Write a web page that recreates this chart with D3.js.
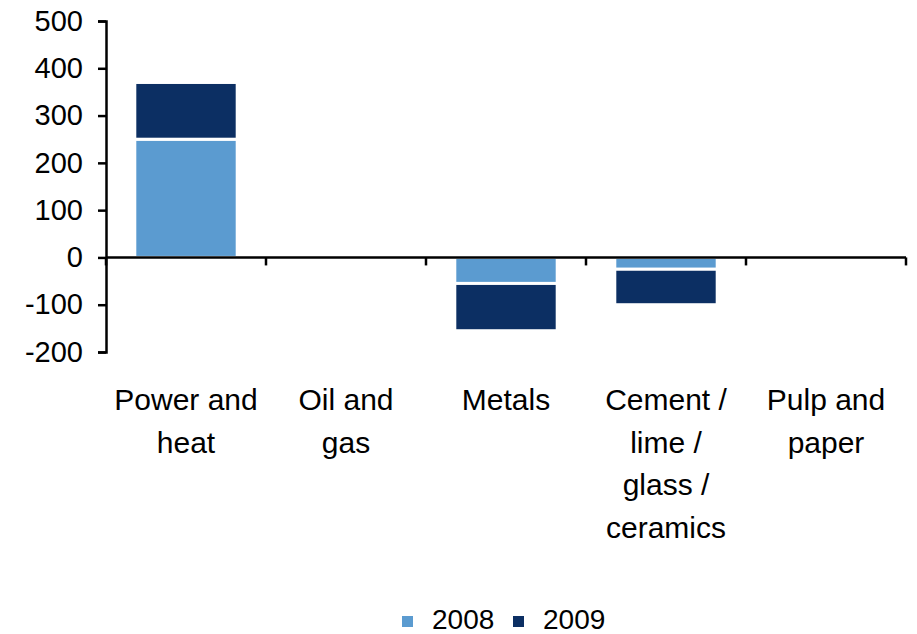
<!DOCTYPE html>
<html>
<head>
<meta charset="utf-8">
<script src="https://cdn.jsdelivr.net/npm/d3@7"></script>
<style>
  body { margin: 0; background: white; }
  text { font-family: "Liberation Sans", Arial, sans-serif; fill: #000; }
</style>
</head>
<body>
<div id="chart"></div>
<script>

var width = 917,
    height = 634;

// data
var categories = [
    ["Power and", "heat"],
    ["Oil and", "gas"],
    ["Metals"],
    ["Cement /", "lime /", "glass /", "ceramics"],
    ["Pulp and", "paper"]
];
var years = ["2008", "2009"];
var values2008 = [250, 0, -55, -25, 0];
var values2009 = [120, 0, -100, -75, 0];
var yTicks = [-200, -100, 0, 100, 200, 300, 400, 500];
var colors = ["#5b9bd0", "#0c2f63"];

var margin = { left: 106, right: 11, top: 21, bottom: 282 };

var svg = d3.select("#chart")
    .append("svg")
    .attr("width", width)
    .attr("height", height);

svg.append("rect")
    .attr("width", "100%")
    .attr("height", "100%")
    .attr("fill", "white");

var x = d3.scaleBand()
    .domain(d3.range(categories.length))
    .range([margin.left, width - margin.right])
    .paddingInner(0.36)
    .paddingOuter(0.18);

var y = d3.scaleLinear()
    .domain([-200, 500])
    .range([height - margin.bottom, margin.top]);

// build stacked segments (same sign stacks outward from zero)
var segments = [];
categories.forEach(function(c, i) {
    var base = 0;
    [values2008[i], values2009[i]].forEach(function(v, s) {
        if (v === 0) return;
        segments.push({ i: i, s: s, y0: base, y1: base + v });
        base += v;
    });
});

svg.append("g")
    .selectAll("rect")
    .data(segments)
    .enter().append("rect")
    .attr("x", function(d) { return x(d.i); })
    .attr("width", x.bandwidth())
    .attr("y", function(d) { return y(Math.max(d.y0, d.y1)); })
    .attr("height", function(d) { return Math.abs(y(d.y0) - y(d.y1)); })
    .attr("fill", function(d) { return colors[d.s]; })
    .attr("stroke", "white")
    .attr("stroke-width", 3);

// y axis
var yAxis = svg.append("g")
    .attr("transform", "translate(" + margin.left + ",0)")
    .call(d3.axisLeft(y)
        .tickValues(yTicks)
        .tickSize(8)
        .tickPadding(15)
        .tickFormat(function(d) { return String(d); }));
yAxis.select(".domain").attr("stroke", "#000").attr("stroke-width", 2.5);
yAxis.selectAll(".tick line").attr("stroke", "#000").attr("stroke-width", 2.5);
yAxis.selectAll(".tick text")
    .style("font-size", "29px")
    .style("font-family", "Liberation Sans, Arial, sans-serif")
    .attr("fill", "#000");

// zero line with category dividers
var step = x.step();
var zeroY = y(0);
svg.append("line")
    .attr("x1", margin.left)
    .attr("x2", width - margin.right)
    .attr("y1", zeroY)
    .attr("y2", zeroY)
    .attr("stroke", "#000")
    .attr("stroke-width", 2.5);

svg.append("g")
    .selectAll("line")
    .data(d3.range(categories.length + 1))
    .enter().append("line")
    .attr("x1", function(d) { return margin.left + d * step; })
    .attr("x2", function(d) { return margin.left + d * step; })
    .attr("y1", zeroY)
    .attr("y2", zeroY + 8)
    .attr("stroke", "#000")
    .attr("stroke-width", 2.5);

// category labels
var labels = svg.append("g")
    .selectAll("text")
    .data(categories)
    .enter().append("text")
    .attr("text-anchor", "middle")
    .style("font-size", "30px");

labels.selectAll("tspan")
    .data(function(d, i) { return d.map(function(t) { return { t: t, i: i }; }); })
    .enter().append("tspan")
    .attr("x", function(d) { return x(d.i) + x.bandwidth() / 2; })
    .attr("y", function(d, k) { return 410 + k * 42.5; })
    .text(function(d) { return d.t; });

// legend
var legend = svg.append("g")
    .selectAll("g")
    .data(years)
    .enter().append("g")
    .attr("transform", function(d, i) { return "translate(" + (402 + i * 111) + ",616)"; });

legend.append("rect")
    .attr("width", 11)
    .attr("height", 11)
    .attr("fill", function(d, i) { return colors[i]; });

legend.append("text")
    .attr("x", 30)
    .attr("y", 13)
    .style("font-size", "28px")
    .text(function(d) { return d; });

</script>
</body>
</html>
